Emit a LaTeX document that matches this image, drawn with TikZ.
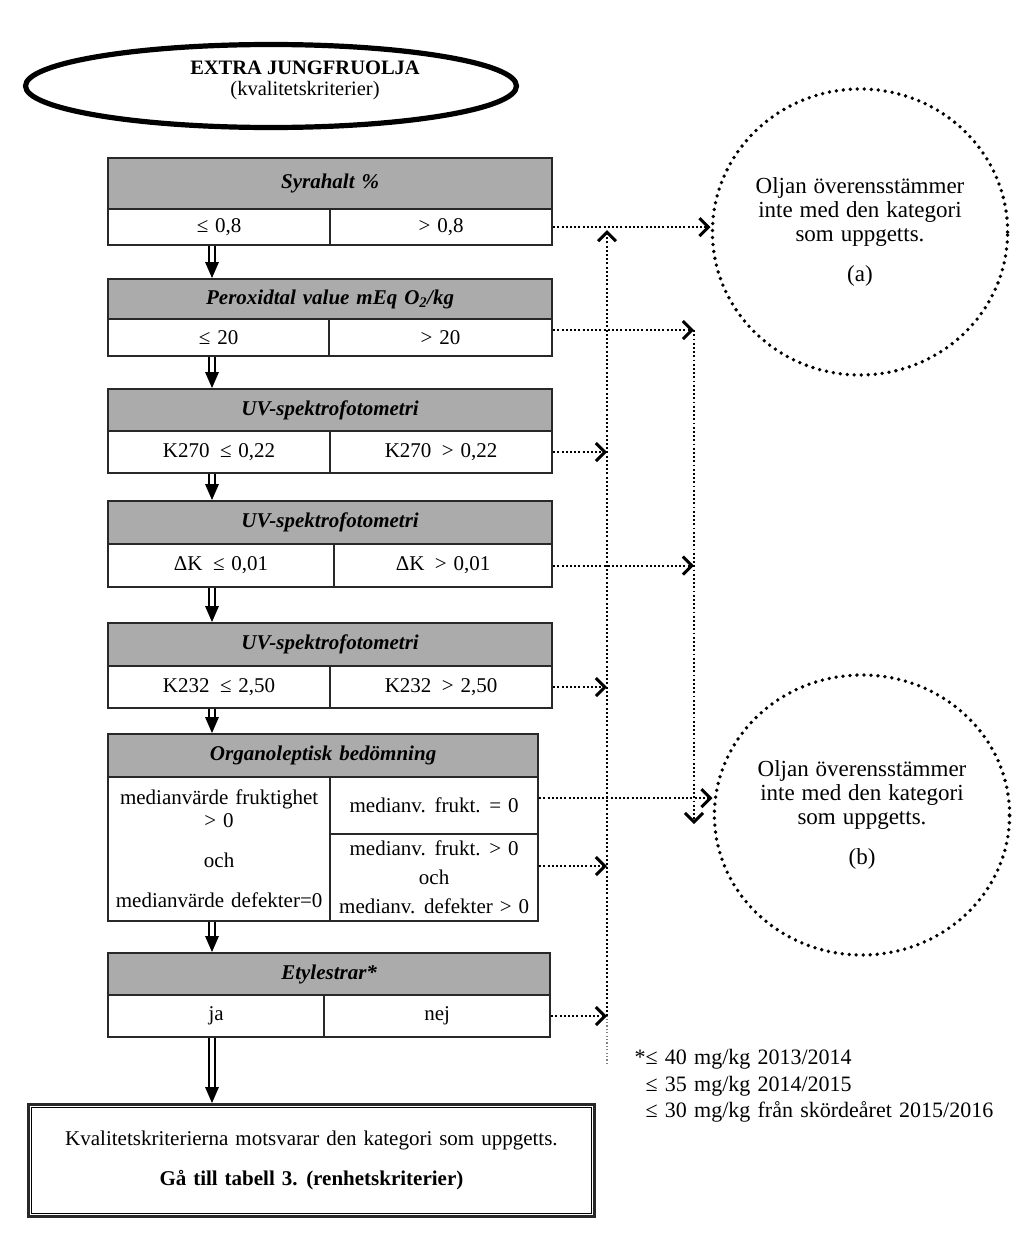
\documentclass[tikz,border=0pt]{standalone}
\usepackage{fontspec}
\setmainfont{Liberation Serif}
\usetikzlibrary{arrows.meta,shapes.geometric,calc}
\definecolor{hdrgray}{RGB}{171,171,171}
\definecolor{bord}{RGB}{40,40,40}
\newcommand\bodyfont{\fontsize{21}{25}\selectfont\spaceskip=0.33em plus 0.05em\relax}
\newcommand\ringfont{\fontsize{23}{25}\selectfont\spaceskip=0.3em plus 0.05em\relax}
\newcommand\fnfont{\fontsize{22}{26.5}\selectfont\spaceskip=0.33em plus 0.05em\relax}
\newcommand\dblarr[3]{%
  \coordinate (#1s) at (#2);
  \coordinate (#1e) at (#3);
  \draw[line width=2pt] ([xshift=-2.6pt]#1s) -- ([xshift=-2.6pt,yshift=11pt]#1e);
  \draw[line width=2pt] ([xshift=2.6pt]#1s) -- ([xshift=2.6pt,yshift=11pt]#1e);
  \fill ([xshift=-7pt,yshift=16pt]#1e) -- (#1e) -- ([xshift=7pt,yshift=16pt]#1e) -- cycle;}
\begin{document}
\begin{tikzpicture}[x=1pt,y=-1pt,
  font=\bodyfont,
  box/.style={draw=bord, line width=2.2pt, inner sep=0pt, anchor=north west, align=center},
  hdr/.style={box, fill=hdrgray, font=\bodyfont\bfseries\itshape},
  dotline/.style={line width=1.9pt, dash pattern=on 1.9pt off 2.3pt},
  dotarr/.style={dotline, -{Straight Barb[length=9pt,width=18pt,line width=3pt]}},
  ring/.style={ellipse, draw, line width=3.8pt, dash pattern=on 0pt off 7pt, line cap=round, inner sep=0pt, align=center, font=\ringfont}]
\path[use as bounding box, fill=white] (0,0) rectangle (1024,1258);

% title
\node[ellipse, draw, line width=5.2pt, minimum width=491pt, minimum height=83pt] (top) at (271,86) {};
\node[align=center, font=\fontsize{20.5}{24}\selectfont] (ttl) at (305,80) {\textbf{EXTRA JUNGFRUOLJA}\\[-3pt](kvalitetskriterier)};

% block 1
\node[hdr, minimum width=444pt, minimum height=51pt] (h1) at (107,157) {Syrahalt \%};
\node[box, minimum width=222pt, minimum height=36pt] (c1l) at (107,208) {≤ 0,8};
\node[box, minimum width=222pt, minimum height=36pt] (c1r) at (329,208) {> 0,8};
% block 2
\node[hdr, minimum width=444pt, minimum height=40pt] (h2) at (107,278) {Peroxidtal value mEq O\textsubscript{2}/kg};
\node[box, minimum width=221pt, minimum height=37pt] (c2l) at (107,318) {≤ 20};
\node[box, minimum width=223pt, minimum height=37pt] (c2r) at (328,318) {> 20};
% block 3
\node[hdr, minimum width=444pt, minimum height=42pt] (h3) at (107,388) {UV-spektrofotometri};
\node[box, minimum width=222pt, minimum height=42pt] (c3l) at (107,430) {K270 \,≤ 0,22};
\node[box, minimum width=222pt, minimum height=42pt] (c3r) at (329,430) {K270 \,> 0,22};
% block 4
\node[hdr, minimum width=444pt, minimum height=43pt] (h4) at (107,500) {UV-spektrofotometri};
\node[box, minimum width=226pt, minimum height=43pt] (c4l) at (107,543) {ΔK \,≤ 0,01};
\node[box, minimum width=218pt, minimum height=43pt] (c4r) at (333,543) {ΔK \,> 0,01};
% block 5
\node[hdr, minimum width=444pt, minimum height=43pt] (h5) at (107,622) {UV-spektrofotometri};
\node[box, minimum width=222pt, minimum height=42pt] (c5l) at (107,665) {K232 \,≤ 2,50};
\node[box, minimum width=222pt, minimum height=42pt] (c5r) at (329,665) {K232 \,> 2,50};
% block 6
\node[hdr, minimum width=430pt, minimum height=43pt] (h6) at (107,733) {Organoleptisk bedömning};
\node[box, minimum width=222pt, minimum height=144pt] (c6l) at (107,776) {medianvärde fruktighet\\[-2pt]> 0\\[15pt]och\\[15pt]medianvärde defekter=0};
\node[box, minimum width=208pt, minimum height=57pt] (c6rt) at (329,776) {medianv. frukt. = 0};
\node[box, minimum width=208pt, minimum height=87pt] (c6rb) at (329,833) {medianv. frukt. > 0\\[4pt]och\\[4pt]medianv. defekter > 0};
% block 7
\node[hdr, minimum width=442pt, minimum height=42pt] (h7) at (107,952) {Etylestrar*};
\node[box, minimum width=216pt, minimum height=42pt] (c7l) at (107,994) {ja};
\node[box, minimum width=226pt, minimum height=42pt] (c7r) at (323,994) {nej};

% final box
\node[box, line width=2.8pt, minimum width=566pt, minimum height=112pt] (fin) at (27,1103)
  {Kvalitetskriterierna motsvarar den kategori som uppgetts.\\[15pt]\textbf{Gå till tabell 3. (renhetskriterier)}};
\draw[line width=1.4pt] ([shift={(4.5pt,-4.5pt)}]fin.north west) rectangle ([shift={(-4.5pt,4.5pt)}]fin.south east);

% circles
\node[ring, minimum width=290pt, minimum height=286pt] (A) at (860,232)
  {Oljan överensstämmer\\[-1pt]inte med den kategori\\[-1pt]som uppgetts.\\[15pt](a)};
\node[ring, minimum width=290pt, minimum height=280pt] (B) at (862,815)
  {Oljan överensstämmer\\[-1pt]inte med den kategori\\[-1pt]som uppgetts.\\[15pt](b)};

% footnote
\node[anchor=north west, align=left, font=\fnfont] (fn) at (631,1046)
  {*≤ 40 mg/kg 2013/2014\\\phantom{*}≤ 35 mg/kg 2014/2015\\\phantom{*}≤ 30 mg/kg från skördeåret 2015/2016};

% double arrows
\coordinate (ax) at (212,0);
\dblarr{d1}{c1l.south -| ax}{h2.north -| ax}
\dblarr{d2}{c2l.south -| ax}{h3.north -| ax}
\dblarr{d3}{c3l.south -| ax}{h4.north -| ax}
\dblarr{d4}{c4l.south -| ax}{h5.north -| ax}
\dblarr{d5}{c5l.south -| ax}{h6.north -| ax}
\dblarr{d6}{c6l.south -| ax}{h7.north -| ax}
\dblarr{d7}{c7l.south -| ax}{fin.north -| ax}

% dotted connectors
\coordinate (vA) at (607,1064);
\coordinate (vB) at (694,824);
\coordinate (p2) at ([yshift=7.5pt]c2r.east);
\coordinate (p6t) at ([yshift=7.5pt]c6rt.east);
\coordinate (p6b) at ([yshift=11.5pt]c6rb.east);
\coordinate (vAm) at (c7r.east -| vA);
\draw[line width=1.2pt, dash pattern=on 1.2pt off 2.2pt, gray] (vA) -- (vAm);
\draw[dotarr, shorten >=3pt] (vAm) -- (c1r.east -| vA);
\draw[dotarr] (c1r.east) -- (c1r.east -| A.west);
\draw[dotarr] (p2) -- (p2 -| vB);
\draw[dotarr] (p2 -| vB) -- (vB);
\draw[dotarr] (c3r.east) -- (c3r.east -| vA);
\draw[dotarr] (c4r.east) -- (c4r.east -| vB);
\draw[dotarr] (c5r.east) -- (c5r.east -| vA);
\draw[dotarr] (p6t) -- (p6t -| B.west);
\draw[dotarr] (p6b) -- (p6b -| vA);
\draw[dotarr] (c7r.east) -- (c7r.east -| vA);
\end{tikzpicture}
\end{document}
